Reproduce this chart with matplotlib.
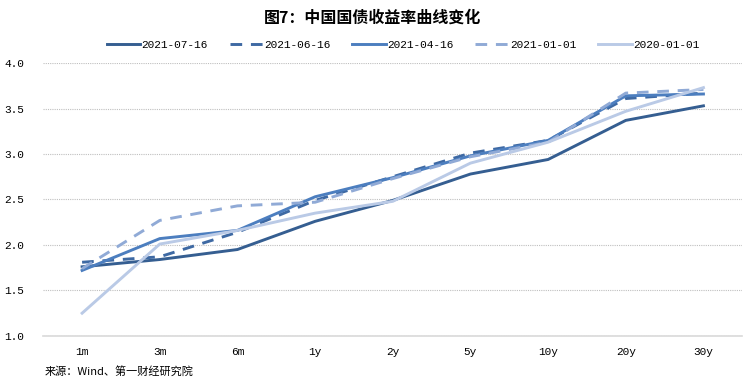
import numpy as np
import matplotlib.pyplot as plt

plt.rcParams['font.family'] = ['Noto Sans CJK SC', 'DejaVu Sans']

# tenors and yield curves (%)
tenors = ['1m', '3m', '6m', '1y', '2y', '5y', '10y', '20y', '30y']
y_20210716 = [1.76, 1.84, 1.95, 2.26, 2.49, 2.78, 2.94, 3.37, 3.53]
y_20210616 = [1.81, 1.87, 2.14, 2.49, 2.75, 3.01, 3.15, 3.61, 3.67]
y_20210416 = [1.72, 2.07, 2.16, 2.53, 2.74, 2.98, 3.15, 3.64, 3.66]
y_20210101 = [1.74, 2.27, 2.43, 2.47, 2.73, 2.97, 3.13, 3.67, 3.71]
y_20200101 = [1.25, 2.01, 2.16, 2.35, 2.48, 2.90, 3.13, 3.47, 3.73]

series = [
    ('2021-07-16', y_20210716, '#355E91', '-'),
    ('2021-06-16', y_20210616, '#3E69A3', (0, (4, 3))),
    ('2021-04-16', y_20210416, '#4C7EBF', '-'),
    ('2021-01-01', y_20210101, '#90AAD6', (0, (4, 3))),
    ('2020-01-01', y_20200101, '#BACAE6', '-'),
]

fig = plt.figure(figsize=(7.46, 3.87), dpi=100)
ax = fig.add_axes([0.058, 0.132, 0.937, 0.705])

x = np.arange(len(tenors))
for name, vals, col, ls in series:
    ax.plot(x, vals, color=col, linestyle=ls, linewidth=2.1, label=name)

ax.set_xlim(-0.5, len(tenors) - 0.5)
ax.set_ylim(1.0, 4.0)
ax.set_yticks(np.arange(1.0, 4.01, 0.5))
ax.set_yticklabels(['%.1f' % v for v in np.arange(1.0, 4.01, 0.5)],
                   family='Liberation Mono', fontsize=8)
ax.set_xticks(x)
ax.set_xticklabels(tenors, family='Liberation Mono', fontsize=8)
ax.tick_params(length=0, pad=8)
ax.tick_params(axis='y', pad=14)

ax.grid(axis='y', linestyle=(0, (1, 1)), color='#BFBFBF', linewidth=0.8)
for s in ['top', 'right', 'left']:
    ax.spines[s].set_visible(False)
ax.spines['bottom'].set_color('#D9D9D9')
ax.spines['bottom'].set_linewidth(1.2)

fig.text(0.5, 0.955, '图7：中国国债收益率曲线变化', ha='center', va='center',
         fontsize=11.5, fontweight='bold')
leg = fig.legend(loc='center', bbox_to_anchor=(0.54, 0.883), ncol=5, frameon=False,
                 prop={'family': 'Liberation Mono', 'size': 8},
                 handlelength=3.0, columnspacing=2.0, handletextpad=0.1)
fig.text(0.06, 0.04, '来源：Wind、第一财经研究院', ha='left', va='center', fontsize=8)

fig.savefig('out.png', dpi=100)
